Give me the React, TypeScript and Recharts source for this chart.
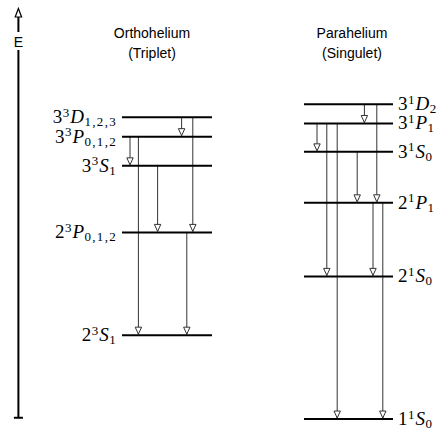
import React from "react";
import { ComposedChart, XAxis, YAxis, Line, ReferenceLine, ReferenceDot } from "recharts";

// schematic energies (arbitrary units, 1^1S_0 = 0, axis top = 100)
const orthoLevels = [
  { key: "23S", n: 2, L: "S", J: "1", E: 20.4 },
  { key: "23P", n: 2, L: "P", J: "0,1,2", E: 45.4 },
  { key: "33S", n: 3, L: "S", J: "1", E: 61.6 },
  { key: "33P", n: 3, L: "P", J: "0,1,2", E: 68.7 },
  { key: "33D", n: 3, L: "D", J: "1,2,3", E: 73.4 },
];
const paraLevels = [
  { key: "11S", n: 1, L: "S", J: "0", E: 0 },
  { key: "21S", n: 2, L: "S", J: "0", E: 34.7 },
  { key: "21P", n: 2, L: "P", J: "1", E: 52.6 },
  { key: "31S", n: 3, L: "S", J: "0", E: 65 },
  { key: "31P", n: 3, L: "P", J: "1", E: 71.9 },
  { key: "31D", n: 3, L: "D", J: "2", E: 76.6 },
];

// [from, to, lane x]
const orthoTransitions: [string, string, number][] = [
  ["33D", "33P", 45.4],
  ["33D", "23P", 48.2],
  ["33P", "33S", 32.5],
  ["33P", "23S", 34.6],
  ["33S", "23P", 39.4],
  ["23P", "23S", 46.7],
];
const paraTransitions: [string, string, number][] = [
  ["31D", "31P", 91.1],
  ["31D", "21P", 94.2],
  ["31P", "31S", 79.25],
  ["31P", "21S", 81.7],
  ["31P", "11S", 84.3],
  ["31S", "21P", 89.3],
  ["21P", "21S", 93.25],
  ["21P", "11S", 95.7],
];

const orthoSpan = [30.5, 53];
const paraSpan = [76, 98.25];
const titles = [
  { x: 38, E: 93.9, lines: ["Orthohelium", "(Triplet)"] },
  { x: 88, E: 93.9, lines: ["Parahelium", "(Singulet)"] },
];
const axisX = 4.6;
const axisRange = [0.3, 100];
const frame = [
  { x: 0, E: 0 },
  { x: 110, E: 100 },
];

const SANS = "'Liberation Sans', Arial, Helvetica, sans-serif";
const SERIF = "'Liberation Serif', 'Times New Roman', serif";

const levelLabel = (lv: any, mult: number, side: "left" | "right") => (p: any) => {
  const idx = side === "left" ? 0 : 1;
  if (p.index !== idx) return null;
  const tx = side === "left" ? p.x - 5 : p.x + 5;
  return (
    <text
      x={tx}
      y={p.y + 6}
      textAnchor={side === "left" ? "end" : "start"}
      fontFamily={SERIF}
      fontSize={19}
      fill="#000"
      letterSpacing={0.5}
    >
      <tspan>{lv.n}</tspan>
      <tspan dy={-6.5} fontSize={13}>{mult}</tspan>
      <tspan dy={6.5} dx={0.5} fontStyle="italic">{lv.L}</tspan>
      <tspan dy={3} fontSize={13} letterSpacing={1.3}>{lv.J}</tspan>
    </text>
  );
};

const arrowDot = (p: any) => {
  if (p.index !== 1) return <g key={p.key} />;
  const { cx, cy } = p;
  const h = 8;
  const w = 3.2;
  return (
    <polygon
      key={p.key}
      points={`${cx - w},${cy - h} ${cx + w},${cy - h} ${cx},${cy - 1}`}
      fill="#fff"
      stroke="#333"
      strokeWidth={1}
    />
  );
};

const axisShape = (p: any) => {
  const { x1, y1, y2 } = p;
  const top = Math.min(y1, y2);
  const bot = Math.max(y1, y2);
  const x = x1;
  return (
    <g>
      <polygon
        points={`${x - 3.2},${top + 9} ${x + 3.2},${top + 9} ${x},${top + 0.5}`}
        fill="#fff"
        stroke="#000"
        strokeWidth={1.2}
      />
      <line x1={x} y1={top + 9} x2={x} y2={top + 24} stroke="#000" strokeWidth={2} />
      <text x={x} y={top + 39} textAnchor="middle" fontFamily={SANS} fontSize={14} fill="#000">
        E
      </text>
      <line x1={x} y1={top + 42} x2={x} y2={bot} stroke="#000" strokeWidth={2} />
      <line x1={x - 4.5} y1={bot} x2={x + 4.5} y2={bot} stroke="#000" strokeWidth={2} />
    </g>
  );
};

const titleShape = (lines: string[]) => (p: any) => (
  <text x={p.cx} y={p.cy + 5} textAnchor="middle" fontFamily={SANS} fontSize={14} fill="#000">
    {lines.map((t, i) => (
      <tspan key={i} x={p.cx} dy={i === 0 ? 0 : 20}>
        {t}
      </tspan>
    ))}
  </text>
);

export default function App() {
  const energyOf = (key: string) =>
    [...orthoLevels, ...paraLevels].find((l) => l.key === key)!.E;

  return (
    <div style={{ position: "absolute", left: 0, top: 0, background: "#fff" }}>
      <ComposedChart
        width={440}
        height={435}
        data={frame}
        margin={{ top: 8, right: 0, bottom: 16, left: 0 }}
      >
        <XAxis type="number" dataKey="x" domain={[0, 110]} hide />
        <YAxis type="number" domain={[0, 100]} hide />

        {/* invisible frame series so the chart has data */}
        <Line dataKey="E" stroke="none" dot={false} activeDot={false} isAnimationActive={false} />

        <ReferenceLine
          segment={[
            { x: axisX, y: axisRange[0] },
            { x: axisX, y: axisRange[1] },
          ]}
          shape={axisShape}
          ifOverflow="visible"
        />

        {titles.map((t) => (
          <ReferenceDot key={t.lines[0]} x={t.x} y={t.E} shape={titleShape(t.lines)} ifOverflow="visible" />
        ))}

        {[...orthoTransitions, ...paraTransitions].map(([from, to, lane]) => (
          <Line
            key={from + to}
            data={[
              { x: lane, E: energyOf(from) },
              { x: lane, E: energyOf(to) },
            ]}
            dataKey="E"
            type="linear"
            stroke="#333"
            strokeWidth={1}
            dot={arrowDot}
            activeDot={false}
            isAnimationActive={false}
          />
        ))}

        {orthoLevels.map((lv) => (
          <Line
            key={lv.key}
            data={[
              { x: orthoSpan[0], E: lv.E },
              { x: orthoSpan[1], E: lv.E },
            ]}
            dataKey="E"
            type="linear"
            stroke="#000"
            strokeWidth={2}
            dot={false}
            activeDot={false}
            label={levelLabel(lv, 3, "left")}
            isAnimationActive={false}
          />
        ))}
        {paraLevels.map((lv) => (
          <Line
            key={lv.key}
            data={[
              { x: paraSpan[0], E: lv.E },
              { x: paraSpan[1], E: lv.E },
            ]}
            dataKey="E"
            type="linear"
            stroke="#000"
            strokeWidth={2}
            dot={false}
            activeDot={false}
            label={levelLabel(lv, 1, "right")}
            isAnimationActive={false}
          />
        ))}
      </ComposedChart>
    </div>
  );
}
